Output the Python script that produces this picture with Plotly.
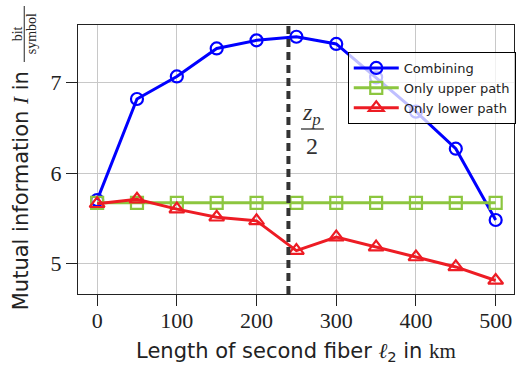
import plotly.graph_objects as go

x_km = [0, 50, 100, 150, 200, 250, 300, 350, 400, 450, 500]
combining = [5.70, 6.82, 7.07, 7.38, 7.47, 7.51, 7.43, 7.06, 6.68, 6.27, 5.48]
upper_path = [5.67, 5.67, 5.67, 5.67, 5.67, 5.67, 5.67, 5.67, 5.67, 5.67, 5.67]
lower_path = [5.66, 5.71, 5.60, 5.51, 5.47, 5.14, 5.29, 5.18, 5.07, 4.96, 4.81]
zp_half = 240
x_ticks = [0, 100, 200, 300, 400, 500]
y_ticks = [5, 6, 7]

SERIF = "Liberation Serif"
SANS = "DejaVu Sans"

W, H = 517, 368
L, R, T, B = 78, 1, 25, 74
pw, ph = W - L - R, H - T - B

def px(xp):
    return (xp - L) / pw

def py(yp):
    return (H - B - yp) / ph

fig = go.Figure()
fig.add_trace(go.Scatter(x=x_km, y=combining, name="Combining", mode="lines+markers",
                         line=dict(color="#0000ff", width=3),
                         marker=dict(symbol="circle-open", size=12, color="#0000ff", line=dict(width=2.2))))
fig.add_trace(go.Scatter(x=x_km, y=upper_path, name="Only upper path", mode="lines+markers",
                         line=dict(color="#8cc63f", width=3),
                         marker=dict(symbol="square-open", size=12, color="#8cc63f", line=dict(width=2.2))))
fig.add_trace(go.Scatter(x=x_km, y=lower_path, name="Only lower path", mode="lines+markers",
                         line=dict(color="#ed1c24", width=3),
                         marker=dict(symbol="triangle-up-open", size=13, color="#ed1c24", line=dict(width=2.2))))

fig.add_shape(type="line", xref="x", yref="paper", x0=zp_half, x1=zp_half, y0=0, y1=1,
              line=dict(color="#333333", width=4, dash="8px,5px"), layer="above")

annotations = [
    dict(text="<i>z<sub>p</sub></i>", x=px(313), y=py(114), xref="paper", yref="paper",
         showarrow=False, font=dict(family=SERIF, size=24, color="#333"), xanchor="center", yanchor="middle"),
    dict(text="2", x=px(313), y=py(146), xref="paper", yref="paper",
         showarrow=False, font=dict(family=SERIF, size=24, color="#333"), xanchor="center", yanchor="middle"),
    dict(text="Mutual information <i><span style='font-family:Liberation Serif'>I</span></i> in",
         x=px(21), y=py(191), xref="paper", yref="paper", textangle=-90,
         showarrow=False, font=dict(family=SANS, size=21, color="#222"), xanchor="center", yanchor="middle"),
    dict(text="bit", x=px(17), y=py(34), xref="paper", yref="paper", textangle=-90,
         showarrow=False, font=dict(family=SERIF, size=14, color="#222"), xanchor="center", yanchor="middle"),
    dict(text="symbol", x=px(31), y=py(34), xref="paper", yref="paper", textangle=-90,
         showarrow=False, font=dict(family=SERIF, size=14, color="#222"), xanchor="center", yanchor="middle"),
]

shapes_extra = [
    dict(type="line", xref="paper", yref="paper", x0=px(302), x1=px(325), y0=py(129), y1=py(129),
         line=dict(color="#333", width=1.3)),
    dict(type="line", xref="paper", yref="paper", x0=px(24), x1=px(24), y0=py(6), y1=py(62),
         line=dict(color="#222", width=1)),
]
for s in shapes_extra:
    fig.add_shape(**s)

fig.update_layout(
    width=W, height=H,
    margin=dict(l=L, r=R, t=T, b=B),
    paper_bgcolor="white", plot_bgcolor="white",
    showlegend=True,
    legend=dict(x=px(349), y=py(52), xanchor="left", yanchor="top",
                bgcolor="rgba(255,255,255,0.75)", bordercolor="black", borderwidth=1,
                font=dict(family=SANS, size=13, color="#222"), tracegroupgap=0,
                itemwidth=45),
    annotations=annotations,
    xaxis=dict(range=[-24, 523], tickvals=x_ticks, ticktext=[str(v) for v in x_ticks],
               showgrid=True, gridcolor="#c8c8c8", gridwidth=1, zeroline=False,
               showline=True, linecolor="#222", linewidth=1, mirror=True,
               ticks="outside", ticklen=11, tickcolor="#222", ticklabelstandoff=-4,
               tickfont=dict(family=SERIF, size=22, color="#222"),
               title=dict(text="Length of second fiber <i><span style='font-family:Liberation Serif'>ℓ</span></i><sub>2</sub> in <span style='font-family:Liberation Serif'>km</span>",
                          font=dict(family=SANS, size=21, color="#222"), standoff=10)),
    yaxis=dict(range=[4.66, 7.64], tickvals=y_ticks, ticktext=[str(v) for v in y_ticks],
               showgrid=True, gridcolor="#c8c8c8", gridwidth=1, zeroline=False,
               showline=True, linecolor="#222", linewidth=1, mirror=True,
               ticks="outside", ticklen=11, tickcolor="#222",
               tickfont=dict(family=SERIF, size=22, color="#222")),
)

fig.write_html("out.html")
